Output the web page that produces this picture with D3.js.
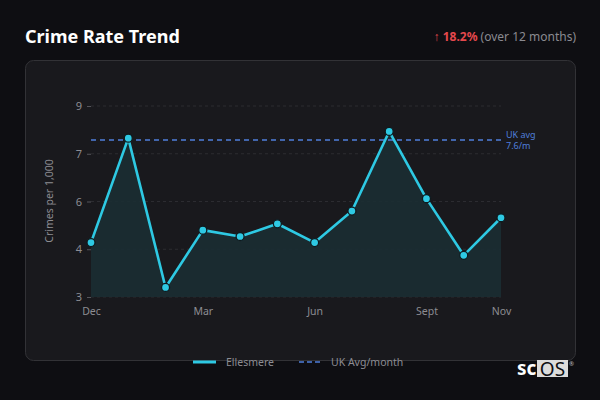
<!DOCTYPE html>
<html>
<head>
<meta charset="utf-8">
<script src="https://cdn.jsdelivr.net/npm/d3@7"></script>
<style>
  html, body { margin: 0; padding: 0; background: #0e0e12; }
  body { width: 600px; height: 400px; overflow: hidden; font-family: "Noto Sans", "Open Sans", sans-serif; }
  svg text { font-family: "Noto Sans", "Open Sans", sans-serif; }
</style>
</head>
<body>
<svg id="chart" width="600" height="400"></svg>
<script>
// --- data ---
const months = ["Dec", "Jan", "Feb", "Mar", "Apr", "May", "Jun", "Jul", "Aug", "Sept", "Oct", "Nov"];
const ellesmere = [4.71, 7.99, 3.30, 5.10, 4.90, 5.30, 4.71, 5.70, 8.20, 6.09, 4.31, 5.49];
const xTickLabels = ["Dec", "Mar", "Jun", "Sept", "Nov"];
const yTickValues = [3, 4.5, 6, 7.5, 9];
const yTickLabels = ["3", "4", "6", "7", "9"];
const ukAvgLevel = 7.93;        // where the line sits on the axis
const ukAvgLines = ["UK avg", "7.6/m"];
const changeText = "18.2%";

const svg = d3.select("#chart");

// card
svg.append("rect")
    .attr("x", 25.5).attr("y", 60.5).attr("width", 550).attr("height", 300)
    .attr("rx", 8).attr("fill", "#19191d").attr("stroke", "#323236");

// header
svg.append("text").attr("x", 25).attr("y", 43)
    .attr("fill", "#ffffff").attr("font-size", 18).attr("font-weight", 700)
    .text("Crime Rate Trend");

const hdr = svg.append("text").attr("x", 576).attr("y", 41)
    .attr("text-anchor", "end").attr("font-size", 12);
hdr.append("tspan").attr("fill", "#e5484d").attr("font-weight", 700).text("\u2191 " + changeText);
hdr.append("tspan").attr("fill", "#8a8a90").text(" (over 12 months)");

// scales
const x = d3.scalePoint().domain(months).range([91, 501]);
const y = d3.scaleLinear().domain([3, 9]).range([297, 106]);

const g = svg.append("g");

// grid
g.selectAll(".grid").data(yTickValues).join("line")
    .attr("x1", 91).attr("x2", 501)
    .attr("y1", d => y(d)).attr("y2", d => y(d))
    .attr("stroke", "#2c2c31").attr("stroke-dasharray", "3,3");

// y axis
const yAxis = g.append("g").attr("transform", "translate(91,0)")
    .call(d3.axisLeft(y).tickValues(yTickValues).tickSize(4).tickPadding(5)
        .tickFormat((d, i) => yTickLabels[i]));
yAxis.select(".domain").remove();
yAxis.selectAll("line").attr("stroke", "#55555b");
yAxis.selectAll("text").attr("fill", "#8c8c92").attr("font-size", 11);

svg.append("text")
    .attr("transform", "translate(53,201) rotate(-90)")
    .attr("text-anchor", "middle").attr("fill", "#8c8c92").attr("font-size", 10.5)
    .text("Crimes per 1,000");

// x axis
const xAxis = g.append("g").attr("transform", "translate(0,297)")
    .call(d3.axisBottom(x).tickValues(xTickLabels).tickSize(0).tickPadding(11));
xAxis.select(".domain").remove();
xAxis.selectAll("text").attr("fill", "#8c8c92").attr("font-size", 10.5);

// area + line
const pts = months.map((m, i) => ({ m, v: ellesmere[i] }));
g.append("path").datum(pts)
    .attr("fill", "#1b2d33").attr("fill-opacity", 0.9)
    .attr("d", d3.area().x(d => x(d.m)).y0(y(3)).y1(d => y(d.v)));

// uk avg reference
g.append("line")
    .attr("x1", 91).attr("x2", 501)
    .attr("y1", y(ukAvgLevel)).attr("y2", y(ukAvgLevel))
    .attr("stroke", "#4f7fdc").attr("stroke-width", 1.6).attr("stroke-dasharray", "5,4");
g.selectAll(".uk-lbl").data(ukAvgLines).join("text")
    .attr("class", "uk-lbl")
    .attr("x", 506).attr("y", (d, i) => y(ukAvgLevel) - 2.5 + i * 11.5)
    .attr("fill", "#4f7fdc").attr("font-size", 9)
    .text(d => d);

g.append("path").datum(pts)
    .attr("fill", "none").attr("stroke", "#2ec9e3").attr("stroke-width", 2.6)
    .attr("stroke-linejoin", "round")
    .attr("d", d3.line().x(d => x(d.m)).y(d => y(d.v)));

g.selectAll(".dot").data(pts).join("circle")
    .attr("cx", d => x(d.m)).attr("cy", d => y(d.v)).attr("r", 4)
    .attr("fill", "#2ec9e3").attr("stroke", "#0f1a1e").attr("stroke-width", 1.3);

// legend
const leg = svg.append("g").attr("transform", "translate(0,362)");
leg.append("line").attr("x1", 193).attr("x2", 216).attr("y1", 0).attr("y2", 0)
    .attr("stroke", "#2ec9e3").attr("stroke-width", 3);
leg.append("text").attr("x", 226).attr("y", 4).attr("fill", "#8c8c92").attr("font-size", 10.5).text("Ellesmere");
leg.append("line").attr("x1", 299).attr("x2", 323).attr("y1", 0).attr("y2", 0)
    .attr("stroke", "#4f7fdc").attr("stroke-width", 1.6).attr("stroke-dasharray", "5,3");
leg.append("text").attr("x", 331).attr("y", 4).attr("fill", "#8c8c92").attr("font-size", 10.5).text("UK Avg/month");

// logo
const logo = svg.append("g").attr("transform", "translate(517,360)");
logo.append("rect").attr("x", 20).attr("y", 0).attr("width", 31).attr("height", 17).attr("fill", "#dcdcdc");
logo.append("text").attr("x", 0).attr("y", 15).attr("fill", "#ffffff").attr("font-size", 19)
    .attr("font-family", "Liberation Sans, Arial, sans-serif").attr("font-weight", 700).text("sc");
logo.append("text").attr("x", 35.5).attr("y", 15.5).attr("text-anchor", "middle")
    .attr("fill", "#0e0e12").attr("font-size", 19)
    .attr("font-family", "Liberation Sans, Arial, sans-serif").text("OS");
logo.append("text").attr("x", 52).attr("y", 6).attr("fill", "#bbbbbb").attr("font-size", 6).text("\u00ae");
</script>
</body>
</html>
